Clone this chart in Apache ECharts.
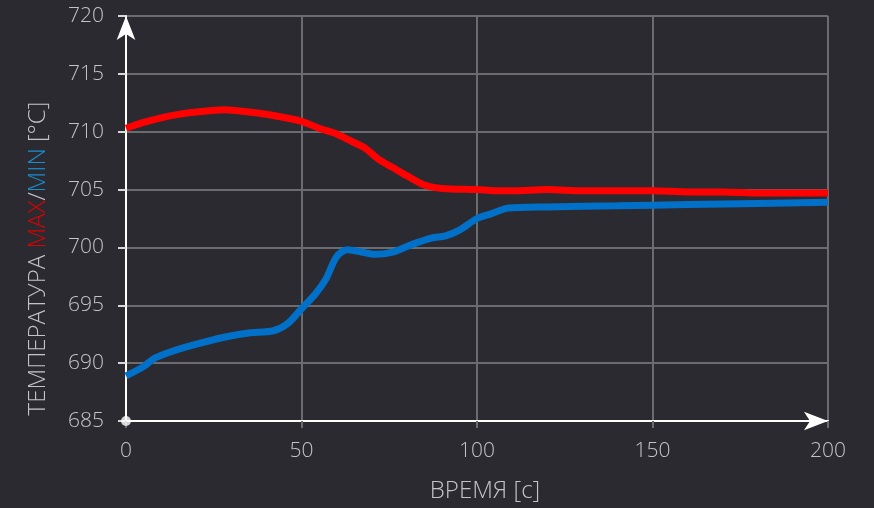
<!DOCTYPE html>
<html>
<head>
<meta charset="utf-8">
<script src="https://cdn.jsdelivr.net/npm/echarts@6/dist/echarts.min.js"></script>
<style>
  html, body { margin: 0; padding: 0; background: #2a2a30; }
  #chart { width: 874px; height: 508px; }
</style>
</head>
<body>
<div id="chart"></div>
<script>
// time [c] and temperature [°C]
const maxTime = [0, 5, 10, 15, 20, 28, 35, 42, 50, 55, 60, 64, 68, 72, 76, 80, 85, 90, 100, 105, 110, 120, 130, 140, 150, 160, 170, 180, 190, 200];
const maxTemp = [710.3, 710.8, 711.2, 711.5, 711.7, 711.9, 711.7, 711.4, 710.9, 710.3, 709.8, 709.2, 708.6, 707.6, 706.9, 706.2, 705.4, 705.1, 705.0, 704.9, 704.9, 705.0, 704.9, 704.9, 704.9, 704.8, 704.8, 704.7, 704.7, 704.7];

const minTime = [0, 5, 8, 12, 16, 22, 29, 35, 42, 46, 50, 54, 57, 60, 63, 67, 71, 76, 81, 87, 91, 95, 100, 104, 109, 120, 140, 160, 180, 200];
const minTemp = [688.9, 689.7, 690.4, 690.9, 691.3, 691.8, 692.3, 692.6, 692.8, 693.4, 694.7, 696.0, 697.3, 699.2, 699.8, 699.6, 699.4, 699.6, 700.2, 700.8, 701.0, 701.5, 702.5, 702.9, 703.4, 703.5, 703.6, 703.7, 703.8, 703.9];

const xTicks = [0, 50, 100, 150, 200];
const yTicks = [685, 690, 695, 700, 705, 710, 715, 720];

const toPairs = (xs, ys) => xs.map((x, i) => [x, ys[i]]);

const labelColor = '#c4c4c8';
const gridColor = '#6c6c70';
const font = 'Open Sans';

const chart = echarts.init(document.getElementById('chart'));
chart.setOption({
  backgroundColor: '#2a2a30',
  animation: false,
  grid: { left: 126, right: 46, top: 16, bottom: 87 },
  xAxis: {
    type: 'value',
    min: xTicks[0],
    max: xTicks[xTicks.length - 1],
    interval: 50,
    name: 'ВРЕМЯ [c]',
    nameLocation: 'middle',
    nameGap: 58,
    nameTextStyle: { color: labelColor, fontSize: 24, fontFamily: font, fontWeight: 300, padding: [0, 0, 0, 16] },
    axisLine: {
      show: true,
      symbol: ['none', 'arrow'],
      symbolSize: [14, 24],
      lineStyle: { color: '#ffffff', width: 2 }
    },
    axisTick: { show: true, length: 7, lineStyle: { color: gridColor, width: 2 } },
    axisLabel: { color: labelColor, fontSize: 21, fontFamily: font, fontWeight: 300, margin: 20 },
    splitLine: { show: true, lineStyle: { color: gridColor, width: 2 } }
  },
  yAxis: {
    type: 'value',
    min: yTicks[0],
    max: yTicks[yTicks.length - 1],
    interval: 5,
    name: '{t|ТЕМПЕРАТУРА }{r|MAX}{t|/}{b|MIN}{t| [°C]}',
    nameLocation: 'middle',
    nameGap: 76,
    nameTextStyle: {
      fontSize: 24,
      padding: [0, 80, 0, 0],
      rich: {
        t: { color: labelColor, fontSize: 24, fontFamily: font, fontWeight: 300 },
        r: { color: '#e00000', fontSize: 24, fontFamily: font, fontWeight: 300 },
        b: { color: '#1a8fd0', fontSize: 24, fontFamily: font, fontWeight: 300 }
      }
    },
    axisLine: {
      show: true,
      symbol: ['none', 'arrow'],
      symbolSize: [14, 24],
      lineStyle: { color: '#ffffff', width: 2 }
    },
    axisTick: { show: true, length: 8, lineStyle: { color: '#d8d8d8', width: 2 } },
    axisLabel: { color: labelColor, fontSize: 21, fontFamily: font, fontWeight: 300, margin: 22 },
    splitLine: { show: true, lineStyle: { color: gridColor, width: 2 } }
  },
  series: [
    {
      name: 'MAX',
      type: 'line',
      data: toPairs(maxTime, maxTemp),
      smooth: 0.3,
      showSymbol: false,
      lineStyle: { color: '#ff0000', width: 7 },
      z: 3
    },
    {
      name: 'MIN',
      type: 'line',
      data: toPairs(minTime, minTemp),
      smooth: 0.3,
      showSymbol: false,
      lineStyle: { color: '#0070c8', width: 7 },
      z: 3
    },
    {
      // origin dot
      type: 'scatter',
      data: [[xTicks[0], yTicks[0]]],
      symbol: 'circle',
      symbolSize: 10,
      itemStyle: { color: '#ffffff' },
      clip: false,
      silent: true,
      z: 5
    }
  ]
});
</script>
</body>
</html>
